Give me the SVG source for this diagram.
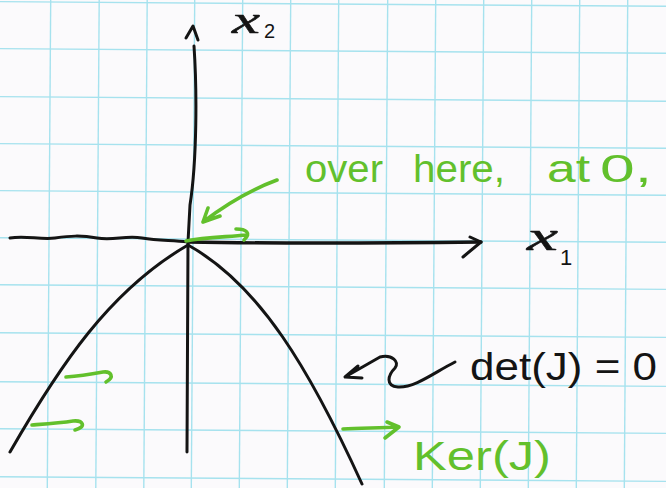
<svg xmlns="http://www.w3.org/2000/svg" width="666" height="488" viewBox="0 0 666 488">
<style>
.grid line{stroke:#a6e2ee;stroke-width:1.4}
.blk{fill:none;stroke:#141414;stroke-width:3;stroke-linecap:round;stroke-linejoin:round}
.grn{fill:none;stroke:#62c02c;stroke-width:3.6;stroke-linecap:round;stroke-linejoin:round}
.tb{font-family:"Liberation Sans",Arial,sans-serif;fill:#141414}
.tg{font-family:"Liberation Sans",Arial,sans-serif;fill:#62c02c}
.tx{font-family:"Liberation Serif","Times New Roman",serif;font-style:italic;fill:#141414;stroke:#141414;stroke-width:0.5}
</style>
<rect width="666" height="488" fill="#fbfafc"/>
<g id="grid" class="grid" transform="rotate(0.4 333 244)">
<line x1="-10" y1="4" x2="680" y2="4"/>
<line x1="-10" y1="51" x2="680" y2="51"/>
<line x1="-10" y1="99" x2="680" y2="99"/>
<line x1="-10" y1="146" x2="680" y2="146"/>
<line x1="-10" y1="193" x2="680" y2="193"/>
<line x1="-10" y1="240" x2="680" y2="240"/>
<line x1="-10" y1="287" x2="680" y2="287"/>
<line x1="-10" y1="335" x2="680" y2="335"/>
<line x1="-10" y1="384" x2="680" y2="384"/>
<line x1="-10" y1="431" x2="680" y2="431"/>
<line x1="-10" y1="479" x2="680" y2="479"/>
<line x1="49" y1="-10" x2="49" y2="500"/>
<line x1="97.5" y1="-10" x2="97.5" y2="500"/>
<line x1="145.5" y1="-10" x2="145.5" y2="500"/>
<line x1="193" y1="-10" x2="193" y2="500"/>
<line x1="241" y1="-10" x2="241" y2="500"/>
<line x1="289" y1="-10" x2="289" y2="500"/>
<line x1="337" y1="-10" x2="337" y2="500"/>
<line x1="386" y1="-10" x2="386" y2="500"/>
<line x1="434" y1="-10" x2="434" y2="500"/>
<line x1="482" y1="-10" x2="482" y2="500"/>
<line x1="530" y1="-10" x2="530" y2="500"/>
<line x1="578" y1="-10" x2="578" y2="500"/>
<line x1="626" y1="-10" x2="626" y2="500"/>
</g>
<g id="axes">
<path class="blk" d="M10,238 C25,235 40,240 55,238 S80,235 97,238 S125,235 142,238 S170,240 188,242"/>
<path class="blk" style="stroke-width:3.4" d="M188,242 C300,244 400,243 481,242"/>
<path class="blk" d="M470,237 L481,242 L463,257"/>
<path class="blk" d="M194,46 C197,90 197,160 190,205 L188,242 L187,452"/>
<path class="blk" d="M186,38 L193,26 L198,40"/>
</g>
<g id="curve">
<path class="blk" d="M10,452 C60,365 110,290 188,245 C260,285 310,370 362,484"/>
</g>
<g id="connectors">
<path class="grn" d="M277,180 C250,190 225,205 203,222 M208,208 L203,222 L220,216"/>
<path class="grn" d="M186,241 C205,237 228,237 246,235 M236,229 C246,229 252,233 244,240"/>
<path class="grn" d="M66,377 C80,376 92,374 103,372 C111,371 115,377 106,382"/>
<path class="grn" d="M32,425 C45,424 60,423 73,421 C83,420 87,427 75,430"/>
<path class="grn" d="M343,429 C360,428 380,428 398,427 M387,422 L399,427 L385,438"/>
<path class="blk" d="M455,362 C435,372 415,388 398,387 C385,386 388,375 395,368 C400,362 392,354 380,357 L345,377 M358,366 L345,377 L362,378"/>
</g>
<g id="labels">
<text class="tx" x="232" y="33" font-size="38" textLength="28" lengthAdjust="spacingAndGlyphs">x</text>
<text class="tb" x="264" y="38" font-size="20">2</text>
<text class="tx" x="527" y="250" font-size="40" textLength="31" lengthAdjust="spacingAndGlyphs">x</text>
<text class="tb" x="560" y="265" font-size="22">1</text>
<text class="tg" x="305" y="182" font-size="38" textLength="78" lengthAdjust="spacingAndGlyphs">over</text>
<text class="tg" x="413" y="182" font-size="38" textLength="92" lengthAdjust="spacingAndGlyphs">here,</text>
<text class="tg" x="547" y="182" font-size="38" textLength="43" lengthAdjust="spacingAndGlyphs">at</text>
<text class="tg" x="600" y="182" font-size="38" textLength="52" lengthAdjust="spacingAndGlyphs">0,</text>
<text class="tb" x="470" y="380" font-size="38" textLength="187" lengthAdjust="spacingAndGlyphs">det(J) = 0</text>
<text class="tg" x="413" y="470" font-size="40" textLength="138" lengthAdjust="spacingAndGlyphs">Ker(J)</text>
</g>
</svg>
